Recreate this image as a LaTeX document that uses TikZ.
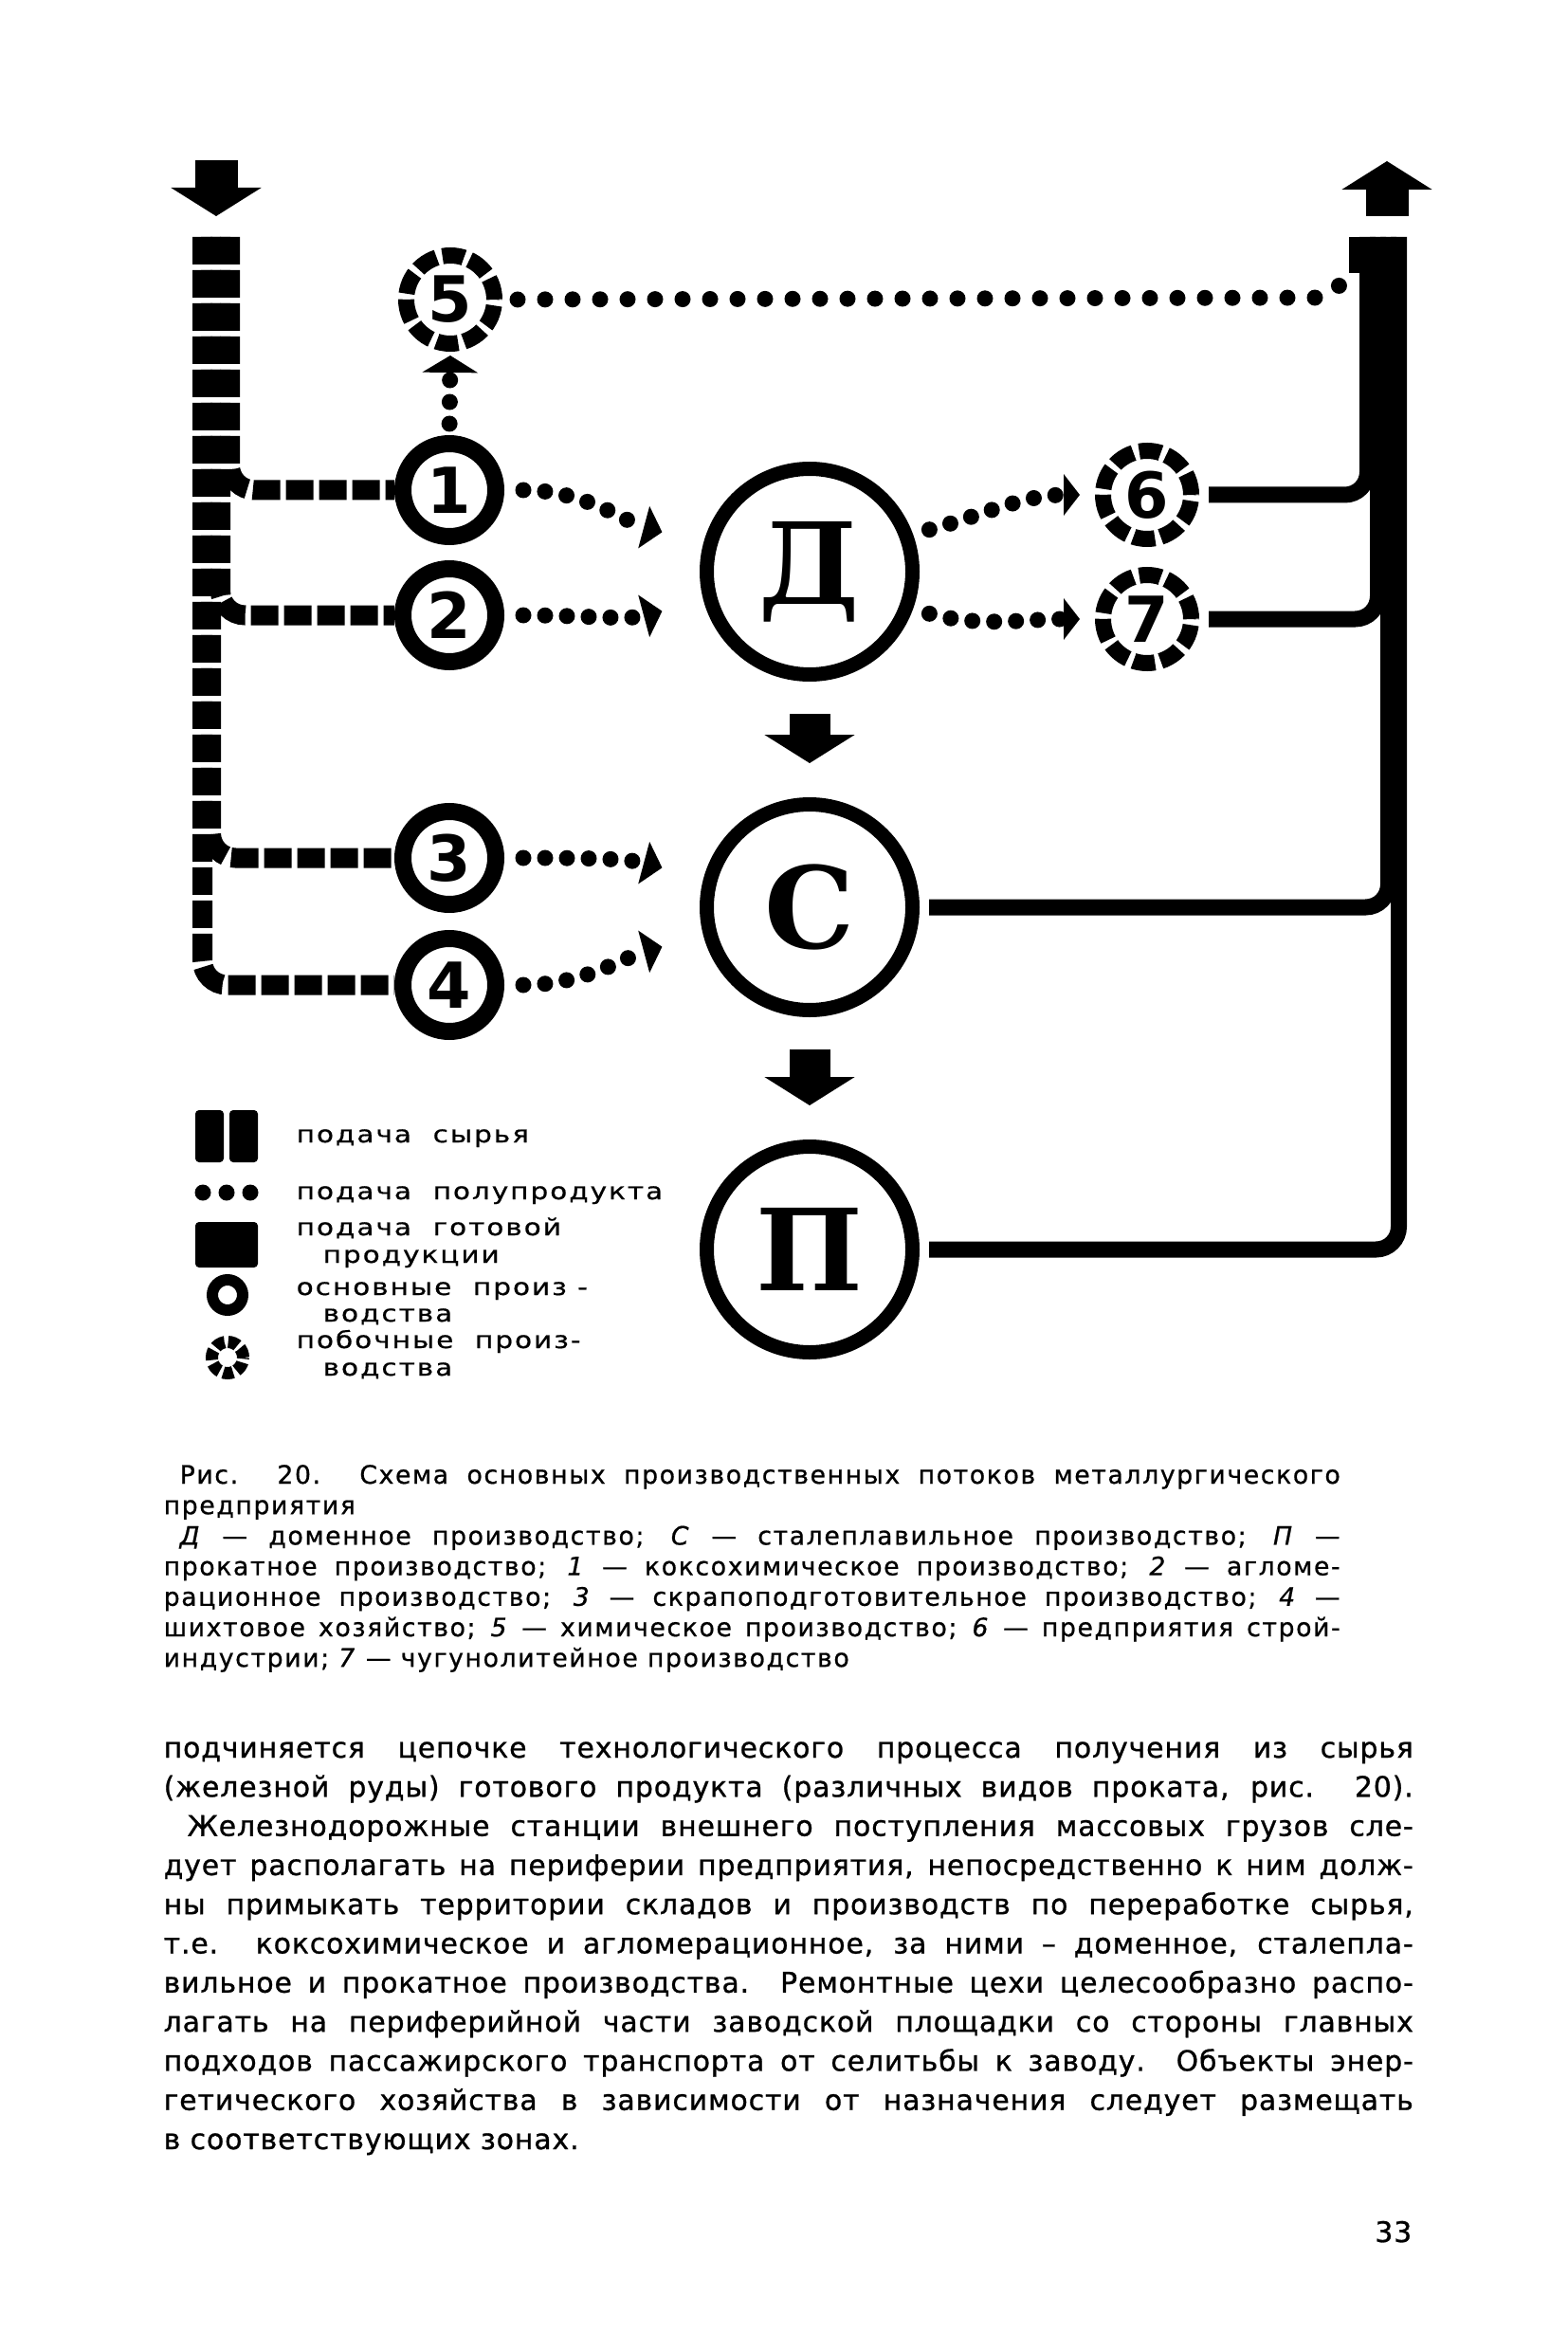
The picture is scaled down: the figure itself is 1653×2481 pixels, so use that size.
\documentclass[tikz,border=0pt]{standalone}
\usepackage{fontspec}
\setmainfont{DejaVu Sans}
\newfontfamily\bookfont[LetterSpace=3, FakeBold=0.9]{DejaVu Sans}
\newfontfamily\capfont[LetterSpace=6, FakeBold=0.7]{DejaVu Sans}
\newfontfamily\legendfont[FakeStretch=1.2, LetterSpace=8, FakeBold=0.6]{DejaVu Sans}
\newfontfamily\numfont{DejaVu Sans}
\newfontfamily\shopfont{DejaVu Serif}
\usetikzlibrary{arrows.meta,positioning}
\definecolor{ink}{HTML}{000000}

\begin{document}
\begin{tikzpicture}[
  x=0.1mm, y=-0.1mm,
  mainshop/.style={circle, draw=ink, line width=1.8mm, minimum size=9.8mm, inner sep=0pt,
    text=ink, font=\numfont\bfseries\fontsize{19}{19}\selectfont},
  sideshop/.style={mainshop, line width=1.7mm, minimum size=9.3mm, dash pattern=on 2.3mm off 0.62mm},
  bigshop/.style={circle, draw=ink, line width=1.5mm, minimum size=21.7mm, inner sep=0pt,
    text=ink, font=\shopfont\bfseries\fontsize{34}{34}\selectfont},
  rawflow/.style={draw=ink, line width=2.1mm, dash pattern=on 2.9mm off 0.6mm, rounded corners=2.6mm},
  prodflow/.style={draw=ink, line width=1.7mm, rounded corners=2.4mm},
  semiflow/.style={draw=ink, line width=1.7mm, line cap=round, dash pattern=on 0pt off 2.3mm},
  semiarr/.style={semiflow, -{Triangle[length=2mm, width=4.5mm]}},
  fatarr/.style={draw=ink, line width=4.5mm, -{Triangle[length=3mm, width=9.4mm]}},
  caption/.style={anchor=base west, inner sep=0pt, text=ink, font=\capfont\fontsize{7.6}{7.6}\selectfont},
  bodyline/.style={caption, font=\bookfont\fontsize{8.5}{8.5}\selectfont},
  legend/.style={anchor=base west, inner sep=0pt, text=ink, font=\legendfont\fontsize{7}{7}\selectfont},
]
  \fill[white] (0,0) rectangle (1653,2481);
  \useasboundingbox (0,0) rectangle (1653,2481);

  \node[sideshop] (n5) at (475,316) {5};
  \node[mainshop] (n1) at (474,517) {1};
  \node[mainshop] (n2) at (474,649) {2};
  \node[mainshop] (n3) at (474,905) {3};
  \node[mainshop] (n4) at (474,1039) {4};
  \node[bigshop] (D) at (854,603) {Д};
  \node[bigshop] (C) at (854,957) {С};
  \node[bigshop] (P) at (854,1318) {П};
  \node[sideshop] (n6) at (1210,522) {6};
  \node[sideshop] (n7) at (1210,653) {7};

  \coordinate (rawin) at (228,169);
  \coordinate (rawtip) at (228,228);
  \draw[fatarr] (rawin) -- (rawtip);
  \foreach \i/\x in {1/242.5, 2/232.5, 3/222.5, 4/213.5} {
    \coordinate (raw\i) at (\x,250);
    \draw[rawflow] (raw\i) |- (n\i.west);
  }

  \draw[semiarr, shorten <=2mm, shorten >=4.5mm] (n1.east) to[out=0, in=165] (D.165);
  \draw[semiarr, shorten <=2mm, shorten >=4.5mm] (n2.east) to[out=0, in=195] (D.195);
  \draw[semiarr, shorten <=2mm, shorten >=4.5mm] (n3.east) to[out=0, in=165] (C.165);
  \draw[semiarr, shorten <=2mm, shorten >=4.5mm] (n4.east) to[out=0, in=195] (C.195);
  \draw[semiarr, -{Triangle[length=1.7mm, width=4.3mm]}, shorten <=1.8mm, shorten >=1.6mm] (D.20) to[out=15, in=180] (n6.west);
  \draw[semiarr, -{Triangle[length=1.7mm, width=4.3mm]}, shorten <=1.8mm, shorten >=1.6mm] (D.-20) to[out=-15, in=180] (n7.west);
  \draw[semiarr, -{Triangle[length=1.8mm, width=5.8mm]}, shorten <=1.2mm, shorten >=0.4mm] (n1.north) -- (n5.south);

  \coordinate (dotbend) at (1392,314);
  \coordinate (dotend) at (1418,298);
  \draw[semiflow, dash pattern=on 0pt off 2.9mm, shorten <=1.6mm] (n5.east) -- (dotbend) -- (dotend);

  \foreach \s/\x in {n6/1442.5, n7/1453.5, C/1464.5, P/1475.5} {
    \coordinate (out\s) at (\x,250);
    \draw[prodflow, shorten <=1mm] (\s.east) -| (out\s);
  }
  \coordinate (notchfoot) at (1430,288);
  \coordinate (notchtop) at (1430,250);
  \draw[prodflow, line width=1.4mm] (notchfoot) -- (notchtop);
  \coordinate (prodout) at (1463,228);
  \coordinate (prodtip) at (1463,170);
  \draw[fatarr] (prodout) -- (prodtip);

  \draw[fatarr, line width=4.3mm, shorten <=3.4mm, shorten >=3.6mm] (D) -- (C);
  \draw[fatarr, line width=4.3mm, shorten <=3.4mm, shorten >=3.6mm] (C) -- (P);

  \fill[ink, rounded corners=0.4mm] (206,1171) rectangle (236,1226);
  \fill[ink, rounded corners=0.4mm] (242,1171) rectangle (272,1226);
  \foreach \x in {214,239,264} \fill[ink] (\x,1258) circle (0.85mm);
  \fill[ink, rounded corners=0.4mm] (206,1289) rectangle (272,1337);
  \draw[ink, line width=1.2mm] (240,1366) circle (1.6mm);
  \draw[ink, line width=1.3mm, dash pattern=on 1.06mm off 0.4mm] (240,1432) circle (1.65mm);

  \node[legend] (lg1) at (312,1205) {подача\ \ сырья};
  \node[legend] (lg2) at (312,1265) {подача\ \ полупродукта};
  \node[legend] (lg3) at (312,1303) {подача\ \ готовой};
  \node[legend] (lg3b) at (340,1332) {продукции};
  \node[legend] (lg4) at (312,1366) {основные\ \ произ -};
  \node[legend] (lg4b) at (340,1394) {водства};
  \node[legend] (lg5) at (312,1422) {побочные\ \ произ-};
  \node[legend] (lg5b) at (340,1451) {водства};

  \foreach \ln [count=\k from 0] in {
    {\hspace*{1.7mm}Рис. 20. Схема основных производственных потоков металлургического},
    {предприятия\hfill},
    {\hspace*{1.7mm}\textit{Д} — доменное производство; \textit{С} — сталеплавильное производство; \textit{П} —},
    {прокатное производство; \textit{1} — коксохимическое производство; \textit{2} — агломе-},
    {рационное производство; \textit{3} — скрапоподготовительное производство; \textit{4} —},
    {шихтовое хозяйство; \textit{5} — химическое производство; \textit{6} — предприятия строй-},
    {индустрии; \textit{7} — чугунолитейное производство\hfill}
  } \node[caption] (cap\k) at (172,{1565+32.2*\k}) {\makebox[124.1mm][s]{\ln}};

  \foreach \ln [count=\k from 0] in {
    {подчиняется цепочке технологического процесса получения из сырья},
    {(железной руды) готового продукта (различных видов проката, рис. 20).},
    {\hspace*{2.5mm}Железнодорожные станции внешнего поступления массовых грузов сле-},
    {дует располагать на периферии предприятия, непосредственно к ним долж-},
    {ны примыкать территории складов и производств по переработке сырья,},
    {т.е. коксохимическое и агломерационное, за ними – доменное, сталепла-},
    {вильное и прокатное производства. Ремонтные цехи целесообразно распо-},
    {лагать на периферийной части заводской площадки со стороны главных},
    {подходов пассажирского транспорта от селитьбы к заводу. Объекты энер-},
    {гетического хозяйства в зависимости от назначения следует размещать},
    {в соответствующих зонах.\hfill}
  } \node[bodyline] (body\k) at (172,{1854+41.3*\k}) {\makebox[131.8mm][s]{\ln}};

  \node[bodyline, anchor=base east] (pageno) at (1490,2365) {33};
\end{tikzpicture}
\end{document}
